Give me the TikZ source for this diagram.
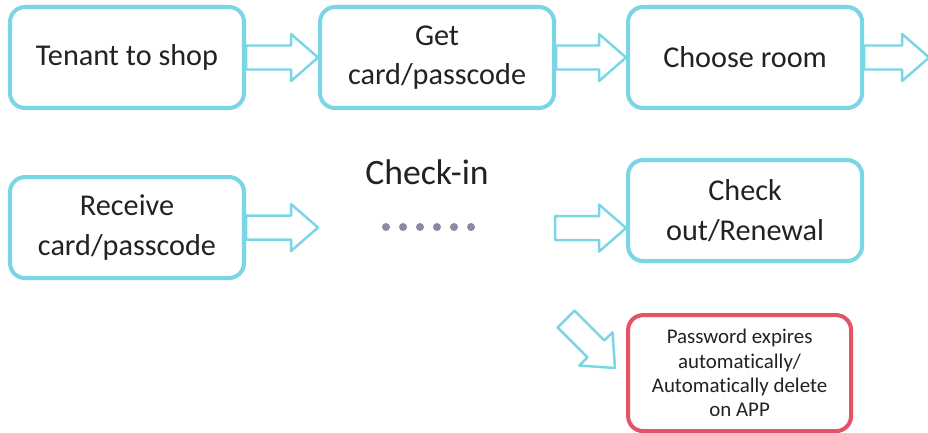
\documentclass[tikz,border=0pt]{standalone}
\usepackage{fontspec}
\setmainfont[Ligatures=CommonOff]{Carlito}
\usepackage{xcolor}
\usetikzlibrary{positioning, calc}
\definecolor{boxcyan}{RGB}{122,214,230}
\definecolor{boxred}{RGB}{228,84,104}
\definecolor{dotgray}{RGB}{138,138,168}
\definecolor{txtgray}{RGB}{34,34,34}

\begin{document}
\begin{tikzpicture}[
  box/.style={rectangle, draw=boxcyan, line width=2.3pt, rounded corners=0.3cm,
              minimum width=4.68cm, minimum height=2.02cm, align=center,
              text=txtgray, fill=white, font=\fontsize{17.2}{22.5}\selectfont},
  alertbox/.style={box, draw=boxred, minimum width=4.46cm, minimum height=2.32cm,
              font=\fontsize{11.9}{13.8}\selectfont},
  arr/.style={draw=boxcyan, line width=1.4pt, fill=white, line join=round,
    to path={
      ($(\tikztostart)!0.24cm!90:(\tikztotarget)$)
      -- ($(\tikztotarget)!0.54cm!(\tikztostart)!0.24cm!-90:(\tikztostart)$)
      -- ($(\tikztotarget)!0.54cm!(\tikztostart)!0.47cm!-90:(\tikztostart)$)
      -- (\tikztotarget)
      -- ($(\tikztotarget)!0.54cm!(\tikztostart)!0.47cm!90:(\tikztostart)$)
      -- ($(\tikztotarget)!0.54cm!(\tikztostart)!0.24cm!90:(\tikztostart)$)
      -- ($(\tikztostart)!0.24cm!-90:(\tikztotarget)$) -- cycle}}
]
\fill[white] (0,0) rectangle (18.56,-8.66);
\useasboundingbox (0,0) rectangle (18.56,-8.66);

\node[box] (shop) at (2.54,-1.15) {Tenant to shop};
\node[box, right=1.44cm of shop] (getcard) {Get\\card/passcode};
\node[box, right=1.40cm of getcard] (room) {Choose room};
\node[box, below=1.3cm of shop] (receive) {Receive\\card/passcode};
\node[box, below=0.96cm of room] (checkout) {Check\\out/Renewal};
\node[alertbox, below right=1.0cm and 0cm of checkout.south west] (expire)
  {Password expires\\automatically/\\Automatically delete\\on APP};
\node[text=txtgray, font=\fontsize{20.3}{24}\selectfont] (checkin) at (8.54,-3.44) {Check-in};
\foreach \i in {0,...,5}
  \fill[dotgray] (7.72+0.34*\i,-4.54) circle (0.08);

\coordinate (roomout) at ($(room.east)+(1.30,0)$);
\coordinate (receiveout) at ($(receive.east)+(1.44,0)$);
\coordinate (checkin5) at ($(checkout.west)+(0,-0.35)$);
\coordinate (checkin4) at ($(checkin5)+(-1.42,0)$);
\coordinate (diagtail) at (11.32,-6.38);
\coordinate (diagtip) at (12.30,-7.36);

\foreach \a/\b in {shop.east/getcard.west, getcard.east/room.west, room.east/roomout,
                   receive.east/receiveout, checkin4/checkin5, diagtail/diagtip}
  \draw[arr] (\a) to (\b);
\end{tikzpicture}
\end{document}
